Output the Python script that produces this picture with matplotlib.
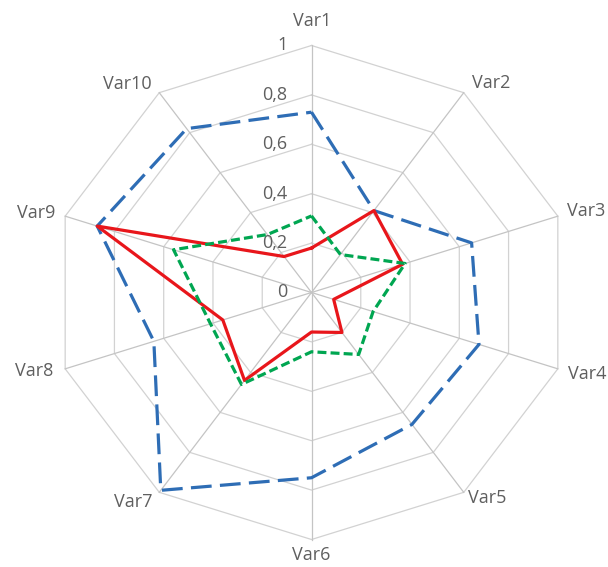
import numpy as np
import matplotlib
matplotlib.use("Agg")
import matplotlib.pyplot as plt

categories = ["Var1", "Var2", "Var3", "Var4", "Var5", "Var6", "Var7", "Var8", "Var9", "Var10"]
blue_values = [0.73, 0.41, 0.65, 0.68, 0.66, 0.75, 0.99, 0.64, 0.87, 0.82]
red_values = [0.18, 0.41, 0.37, 0.09, 0.20, 0.16, 0.44, 0.36, 0.87, 0.18]
green_values = [0.31, 0.19, 0.38, 0.25, 0.31, 0.24, 0.46, 0.41, 0.56, 0.29]
ring_levels = [0, 0.2, 0.4, 0.6, 0.8, 1.0]
ring_labels = ["0", "0,2", "0,4", "0,6", "0,8", "1"]

plt.rcParams['font.family'] = ['Open Sans', 'DejaVu Sans']

W, H, DPI = 608, 567, 100
fig = plt.figure(figsize=(W / DPI, H / DPI), dpi=DPI)
ax = fig.add_axes([0, 0, 1, 1])
cx, cy, rx, ry = 311.5, 292.5, 259.0, 247.0
ax.set_xlim(-cx / rx, (W - cx) / rx)
ax.set_ylim(-(H - cy) / ry, cy / ry)
ax.axis('off')

n = len(categories)
theta = np.arange(n) * 2 * np.pi / n
sx, sy = np.sin(theta), np.cos(theta)

def closed(a):
    return np.append(a, a[0])

grid_col = '#D2D2D2'
for lev in ring_levels[1:]:
    ax.plot(closed(lev * sx), closed(lev * sy), color=grid_col, lw=0.9, zorder=1)
for i in range(n):
    ax.plot([0, sx[i]], [0, sy[i]], color='#C4C4C4', lw=0.9, zorder=1)

text_col = '#5F5F5F'
px2pt = 72.0 / DPI
for lev, lab in zip(ring_levels, ring_labels):
    ax.annotate(lab, xy=(0, lev), xytext=(-24 * px2pt, 0), textcoords='offset points',
                ha='right', va='center', fontsize=13, color=text_col, zorder=2)

# label placement (pixel offsets from vertex, alignment)
lab_style = [
    ((1, 24), 'center', 'center'),
    ((27, 10), 'center', 'center'),
    ((9, 5), 'left', 'center'),
    ((10, -5), 'left', 'center'),
    ((23, -6), 'center', 'center'),
    ((0, -16), 'center', 'center'),
    ((-26, -10), 'center', 'center'),
    ((-12, -2), 'right', 'center'),
    ((-10, 3), 'right', 'center'),
    ((-32, 9), 'center', 'center'),
]
for i, cat in enumerate(categories):
    (ox, oy), ha, va = lab_style[i]
    ax.annotate(cat, xy=(sx[i], sy[i]), xytext=(ox * px2pt, oy * px2pt),
                textcoords='offset points', ha=ha, va=va, fontsize=13,
                color=text_col, zorder=2)

b = np.array(blue_values)
r = np.array(red_values)
g = np.array(green_values)
ax.plot(closed(b * sx), closed(b * sy), color='#2E6DB5', lw=2.3,
        dashes=(6.5, 2.6), solid_capstyle='butt', dash_capstyle='butt', zorder=3)
ax.plot(closed(r * sx), closed(r * sy), color='#E8161B', lw=2.3, zorder=4)
ax.plot(closed(g * sx), closed(g * sy), color='#00A651', lw=2.3,
        dashes=(2.8, 1.3), dash_capstyle='butt', zorder=5)

fig.savefig('out.png', dpi=DPI)
